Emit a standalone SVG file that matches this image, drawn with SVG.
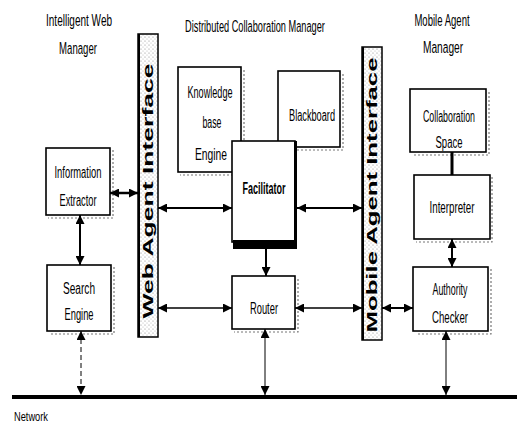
<svg xmlns="http://www.w3.org/2000/svg" width="530" height="428" viewBox="0 0 530 428">
<style>
text{font-family:"Liberation Sans",Arial,sans-serif;fill:#000}
.lbl{font-size:16px;text-anchor:middle}
.hdr{font-size:17px;text-anchor:middle}
.box{fill:#fff;stroke:#000;stroke-width:1.6}
.shadow{fill:none;stroke:#777;stroke-width:1.2;stroke-dasharray:2 2}
.bar{fill:url(#dots);stroke:#000;stroke-width:1.5}
.bartxt{font-size:15px;font-weight:bold;text-anchor:middle}
.c{fill:none;stroke:#000}
</style>
<defs>
<pattern id="dots" width="4" height="4" patternUnits="userSpaceOnUse">
<rect width="4" height="4" fill="#fff"/>
<circle cx="1" cy="1" r="0.6" fill="#888"/>
<circle cx="3" cy="3" r="0.5" fill="#aaa"/>
</pattern>
<marker id="ah" viewBox="0 0 10 10" refX="10" refY="5" markerWidth="9" markerHeight="9" markerUnits="userSpaceOnUse" orient="auto-start-reverse">
<path d="M0,0 L10,5 L0,10 z" fill="#000"/>
</marker>
</defs>
<rect width="530" height="428" fill="#fff"/>

<g id="headers">
<text class="hdr" transform="translate(79,26) scale(0.6,1)" textLength="110" lengthAdjust="spacingAndGlyphs">Intelligent Web</text>
<text class="hdr" transform="translate(78,54) scale(0.6,1)" textLength="63" lengthAdjust="spacingAndGlyphs">Manager</text>
<text class="hdr" transform="translate(255,32) scale(0.6,1)" textLength="233" lengthAdjust="spacingAndGlyphs">Distributed Collaboration Manager</text>
<text class="hdr" transform="translate(442,26) scale(0.6,1)" textLength="92" lengthAdjust="spacingAndGlyphs">Mobile Agent</text>
<text class="hdr" transform="translate(443,53) scale(0.6,1)" textLength="67" lengthAdjust="spacingAndGlyphs">Manager</text>
</g>

<g id="web-agent-interface">
<rect class="bar" x="138" y="34" width="20" height="303"/>
<line x1="139" y1="34" x2="139" y2="337" stroke="#000" stroke-width="2"/>
<text class="bartxt" transform="translate(153,191) rotate(-90)" x="0" y="0" textLength="255" lengthAdjust="spacingAndGlyphs">Web Agent Interface</text>
</g>

<g id="mobile-agent-interface">
<rect class="bar" x="362" y="47" width="20" height="293"/>
<line x1="363" y1="47" x2="363" y2="340" stroke="#000" stroke-width="2"/>
<text class="bartxt" transform="translate(377,195) rotate(-90)" x="0" y="0" textLength="275" lengthAdjust="spacingAndGlyphs">Mobile Agent Interface</text>
</g>

<g id="information-extractor">
<path class="shadow" d="M113,150 V218 H48"/>
<rect class="box" x="46" y="148" width="64" height="67"/>
<text class="lbl" x="78" y="178" textLength="47" lengthAdjust="spacingAndGlyphs">Information</text>
<text class="lbl" x="78" y="206" textLength="37" lengthAdjust="spacingAndGlyphs">Extractor</text>
</g>

<g id="search-engine">
<path class="shadow" d="M114,267 V334 H49"/>
<rect class="box" x="47" y="265" width="64" height="66"/>
<text class="lbl" x="79" y="294" textLength="32" lengthAdjust="spacingAndGlyphs">Search</text>
<text class="lbl" x="79" y="320" textLength="29" lengthAdjust="spacingAndGlyphs">Engine</text>
</g>

<g id="knowledge-base-engine">
<path class="shadow" d="M244,70 V175 H180"/>
<rect class="box" x="178" y="67" width="63" height="105"/>
<text class="lbl" x="210" y="98" textLength="45" lengthAdjust="spacingAndGlyphs">Knowledge</text>
<text class="lbl" x="212" y="128" textLength="19" lengthAdjust="spacingAndGlyphs">base</text>
<text class="lbl" x="211" y="160" textLength="32" lengthAdjust="spacingAndGlyphs">Engine</text>
</g>

<g id="blackboard">
<path class="shadow" d="M343,74 V150 H280"/>
<rect class="box" x="278" y="71" width="62" height="76"/>
<text class="lbl" x="312" y="121" textLength="46" lengthAdjust="spacingAndGlyphs">Blackboard</text>
</g>

<g id="facilitator">
<rect class="box" x="232" y="141" width="63" height="101"/>
<rect x="233" y="240" width="64" height="9" fill="#000"/>
<line x1="295.5" y1="141" x2="295.5" y2="249" stroke="#000" stroke-width="3"/>
<text class="lbl" x="264" y="194" font-weight="bold" textLength="43" lengthAdjust="spacingAndGlyphs">Facilitator</text>
</g>

<g id="router">
<path class="shadow" d="M298,279 V332 H234"/>
<rect class="box" x="232" y="276" width="63" height="53"/>
<text class="lbl" x="264" y="314" textLength="28" lengthAdjust="spacingAndGlyphs">Router</text>
</g>

<g id="collaboration-space">
<path class="shadow" d="M489,92 V155 H412"/>
<rect class="box" x="410" y="89" width="76" height="63"/>
<text class="lbl" x="449" y="122" textLength="52" lengthAdjust="spacingAndGlyphs">Collaboration</text>
<text class="lbl" x="449" y="148" textLength="27" lengthAdjust="spacingAndGlyphs">Space</text>
</g>

<g id="interpreter">
<path class="shadow" d="M492,177 V242 H416"/>
<rect class="box" x="414" y="175" width="76" height="64"/>
<text class="lbl" x="452" y="213" textLength="45" lengthAdjust="spacingAndGlyphs">Interpreter</text>
</g>

<g id="authority-checker">
<path class="shadow" d="M491,269 V334 H416"/>
<rect class="box" x="413" y="267" width="75" height="64"/>
<text class="lbl" x="450" y="295" textLength="35" lengthAdjust="spacingAndGlyphs">Authority</text>
<text class="lbl" x="450" y="323" textLength="36" lengthAdjust="spacingAndGlyphs">Checker</text>
</g>

<g id="network">
<line x1="12" y1="397" x2="517" y2="397" stroke="#000" stroke-width="4"/>
<text x="14" y="421" font-size="13" textLength="34" lengthAdjust="spacingAndGlyphs">Network</text>
</g>

<g id="connectors">
<line class="c" x1="110" y1="193" x2="138" y2="193" stroke-width="2.5" marker-start="url(#ah)" marker-end="url(#ah)"/>
<line class="c" x1="80" y1="215" x2="80" y2="265" stroke-width="2" marker-start="url(#ah)" marker-end="url(#ah)"/>
<line class="c" x1="81" y1="331" x2="81" y2="395" stroke-width="1" stroke-dasharray="5 3" marker-start="url(#ah)" marker-end="url(#ah)"/>
<line class="c" x1="158" y1="208" x2="232" y2="208" stroke-width="2" marker-start="url(#ah)" marker-end="url(#ah)"/>
<line class="c" x1="158" y1="308" x2="232" y2="308" stroke-width="1.5" marker-start="url(#ah)" marker-end="url(#ah)"/>
<line class="c" x1="266" y1="249" x2="266" y2="276" stroke-width="2" marker-end="url(#ah)"/>
<line class="c" x1="297" y1="208" x2="362" y2="208" stroke-width="2" marker-start="url(#ah)" marker-end="url(#ah)"/>
<line class="c" x1="295" y1="308" x2="362" y2="308" stroke-width="1.5" marker-start="url(#ah)" marker-end="url(#ah)"/>
<line class="c" x1="265" y1="329" x2="265" y2="395" stroke-width="1" marker-start="url(#ah)" marker-end="url(#ah)"/>
<line class="c" x1="382" y1="308" x2="413" y2="308" stroke-width="2" marker-start="url(#ah)" marker-end="url(#ah)"/>
<line class="c" x1="452" y1="152" x2="452" y2="175" stroke-width="3"/>
<line class="c" x1="452" y1="239" x2="452" y2="267" stroke-width="2" marker-start="url(#ah)" marker-end="url(#ah)"/>
<line class="c" x1="446" y1="331" x2="446" y2="395" stroke-width="1" marker-start="url(#ah)" marker-end="url(#ah)"/>
</g>
</svg>
